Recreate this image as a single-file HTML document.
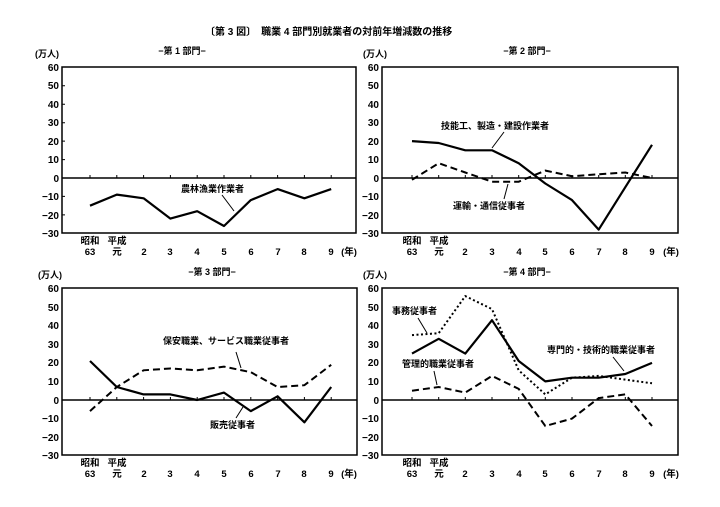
<!DOCTYPE html>
<html><head><meta charset="utf-8"><style>
body{margin:0;background:#fff}
svg{display:block}
text{font-family:"Liberation Sans","Noto Sans CJK JP",sans-serif;font-weight:bold;fill:#000}
.y{font-size:10px;text-anchor:end}
.x{font-size:9.5px;text-anchor:middle}
.l{font-size:9px}
.s{fill:none;stroke:#000;stroke-width:2.2;stroke-linejoin:round}
.d{fill:none;stroke:#000;stroke-width:2;stroke-dasharray:7,4}
.o{fill:none;stroke:#000;stroke-width:2;stroke-dasharray:2,2.5}
</style></head><body>
<svg width="720" height="507" viewBox="0 0 720 507">
<text x="205" y="35" style="font-size:10px">〔第 3 図〕　職業 4 部門別就業者の対前年増減数の推移</text>

<!-- Panel 1 -->
<text x="182" y="54" class="l" text-anchor="middle">−第 1 部門−</text>
<text x="35" y="57" class="l">(万人)</text>
<rect x="62" y="67" width="294" height="166" fill="none" stroke="#000" stroke-width="1.5"/>
<line x1="62" y1="178" x2="356" y2="178" stroke="#000" stroke-width="1.5"/>
<g class="y"><text x="59" y="71">60</text><text x="59" y="89">50</text><text x="59" y="108">40</text><text x="59" y="126">30</text><text x="59" y="145">20</text><text x="59" y="163">10</text><text x="59" y="182">0</text><text x="59" y="200">−10</text><text x="59" y="219">−20</text><text x="59" y="237">−30</text></g>
<g stroke="#000" stroke-width="1"><path d="M62 85.8h3M62 104.2h3M62 122.7h3M62 141.1h3M62 159.6h3M62 196.4h3M62 214.9h3"/><path d="M90 178v-3M116.8 178v-3M143.6 178v-3M170.4 178v-3M197.2 178v-3M224 178v-3M250.8 178v-3M277.6 178v-3M304.4 178v-3M331.2 178v-3"/></g>
<polyline class="s" points="90,205.7 116.8,194.6 143.6,198.3 170.4,218.6 197.2,211.2 224,226 250.8,200.1 277.6,189.1 304.4,198.3 331.2,189.1"/>
<text x="181" y="192" class="l">農林漁業作業者</text>
<line x1="222" y1="195" x2="234" y2="211" stroke="#000"/>
<g class="x"><text x="90" y="244">昭和</text><text x="90" y="255">63</text><text x="117" y="244">平成</text><text x="117" y="255">元</text><text x="144" y="255">2</text><text x="170" y="255">3</text><text x="197" y="255">4</text><text x="224" y="255">5</text><text x="251" y="255">6</text><text x="278" y="255">7</text><text x="304" y="255">8</text><text x="331" y="255">9</text><text x="349" y="255">(年)</text></g>

<!-- Panel 2 -->
<text x="527" y="54" class="l" text-anchor="middle">−第 2 部門−</text>
<text x="363" y="57" class="l">(万人)</text>
<rect x="382" y="67" width="296" height="166" fill="none" stroke="#000" stroke-width="1.5"/>
<line x1="382" y1="178" x2="678" y2="178" stroke="#000" stroke-width="1.5"/>
<g class="y"><text x="379" y="71">60</text><text x="379" y="89">50</text><text x="379" y="108">40</text><text x="379" y="126">30</text><text x="379" y="145">20</text><text x="379" y="163">10</text><text x="379" y="182">0</text><text x="379" y="200">−10</text><text x="379" y="219">−20</text><text x="379" y="237">−30</text></g>
<g stroke="#000" stroke-width="1"><path d="M412 178v-3M438.7 178v-3M465.3 178v-3M492 178v-3M518.7 178v-3M545.3 178v-3M572 178v-3M598.7 178v-3M625.3 178v-3M652 178v-3"/></g>
<polyline class="s" points="412,141.1 438.7,143 465.3,150.3 492,150.3 518.7,163.2 545.3,183.5 572,200.1 598.7,229.6 625.3,187.2 652,144.8"/>
<polyline class="d" points="412,179.8 438.7,163.2 465.3,172.5 492,181.7 518.7,181.7 545.3,170.6 572,176.2 598.7,174.3 625.3,172.5 652,178"/>
<text x="441" y="129" class="l">技能工、製造・建設作業者</text>
<line x1="504" y1="132" x2="492" y2="148" stroke="#000"/>
<text x="453" y="209" class="l">運輸・通信従事者</text>
<line x1="504" y1="199" x2="508" y2="184" stroke="#000"/>
<g class="x"><text x="412" y="244">昭和</text><text x="412" y="255">63</text><text x="439" y="244">平成</text><text x="439" y="255">元</text><text x="465" y="255">2</text><text x="492" y="255">3</text><text x="519" y="255">4</text><text x="545" y="255">5</text><text x="572" y="255">6</text><text x="599" y="255">7</text><text x="625" y="255">8</text><text x="652" y="255">9</text><text x="671" y="255">(年)</text></g>

<!-- Panel 3 -->
<text x="212" y="275" class="l" text-anchor="middle">−第 3 部門−</text>
<text x="38" y="278" class="l">(万人)</text>
<rect x="62" y="288" width="295" height="167" fill="none" stroke="#000" stroke-width="1.5"/>
<line x1="62" y1="400" x2="357" y2="400" stroke="#000" stroke-width="1.5"/>
<g class="y"><text x="59" y="292">60</text><text x="59" y="311">50</text><text x="59" y="329">40</text><text x="59" y="348">30</text><text x="59" y="366">20</text><text x="59" y="385">10</text><text x="59" y="404">0</text><text x="59" y="422">−10</text><text x="59" y="441">−20</text><text x="59" y="459">−30</text></g>
<g stroke="#000" stroke-width="1"><path d="M90 400v-3M116.8 400v-3M143.6 400v-3M170.4 400v-3M197.2 400v-3M224 400v-3M250.8 400v-3M277.6 400v-3M304.4 400v-3M331.2 400v-3"/></g>
<polyline class="s" points="90,361 116.8,387 143.6,394.4 170.4,394.4 197.2,400 224,392.6 250.8,411.1 277.6,396.3 304.4,422.3 331.2,387"/>
<polyline class="d" points="90,411.1 116.8,387 143.6,370.3 170.4,368.5 197.2,370.3 224,366.6 250.8,372.2 277.6,387 304.4,385.2 331.2,364.8"/>
<text x="163" y="344" class="l">保安職業、サービス職業従事者</text>
<line x1="236" y1="352" x2="241" y2="368" stroke="#000"/>
<text x="210" y="428" class="l">販売従事者</text>
<line x1="236" y1="418" x2="243" y2="407" stroke="#000"/>
<g class="x"><text x="90" y="466">昭和</text><text x="90" y="477">63</text><text x="117" y="466">平成</text><text x="117" y="477">元</text><text x="144" y="477">2</text><text x="170" y="477">3</text><text x="197" y="477">4</text><text x="224" y="477">5</text><text x="251" y="477">6</text><text x="278" y="477">7</text><text x="304" y="477">8</text><text x="331" y="477">9</text><text x="349" y="477">(年)</text></g>

<!-- Panel 4 -->
<text x="527" y="275" class="l" text-anchor="middle">−第 4 部門−</text>
<text x="363" y="278" class="l">(万人)</text>
<rect x="382" y="288" width="296" height="167" fill="none" stroke="#000" stroke-width="1.5"/>
<line x1="382" y1="400" x2="678" y2="400" stroke="#000" stroke-width="1.5"/>
<g class="y"><text x="379" y="292">60</text><text x="379" y="311">50</text><text x="379" y="329">40</text><text x="379" y="348">30</text><text x="379" y="366">20</text><text x="379" y="385">10</text><text x="379" y="404">0</text><text x="379" y="422">−10</text><text x="379" y="441">−20</text><text x="379" y="459">−30</text></g>
<g stroke="#000" stroke-width="1"><path d="M412 400v-3M438.7 400v-3M465.3 400v-3M492 400v-3M518.7 400v-3M545.3 400v-3M572 400v-3M598.7 400v-3M625.3 400v-3M652 400v-3"/></g>
<polyline class="o" points="412,335.1 438.7,333.2 465.3,296.1 492,309.1 518.7,370.3 545.3,394.4 572,377.7 598.7,375.9 625.3,379.6 652,383.3"/>
<polyline class="s" points="412,353.6 438.7,338.8 465.3,353.6 492,320.2 518.7,361 545.3,381.4 572,377.7 598.7,377.7 625.3,374 652,362.9"/>
<polyline class="d" points="412,390.7 438.7,387 465.3,392.6 492,375.9 518.7,388.9 545.3,426 572,418.6 598.7,398.1 625.3,394.4 652,426"/>
<text x="392" y="314" class="l">事務従事者</text>
<line x1="418" y1="318" x2="427" y2="333" stroke="#000"/>
<text x="402" y="367" class="l">管理的職業従事者</text>
<line x1="434" y1="371" x2="437" y2="385" stroke="#000"/>
<text x="547" y="353" class="l">専門的・技術的職業従事者</text>
<line x1="613" y1="357" x2="624" y2="371" stroke="#000"/>
<g class="x"><text x="412" y="466">昭和</text><text x="412" y="477">63</text><text x="439" y="466">平成</text><text x="439" y="477">元</text><text x="465" y="477">2</text><text x="492" y="477">3</text><text x="519" y="477">4</text><text x="545" y="477">5</text><text x="572" y="477">6</text><text x="599" y="477">7</text><text x="625" y="477">8</text><text x="652" y="477">9</text><text x="671" y="477">(年)</text></g>
</svg>
</body></html>
